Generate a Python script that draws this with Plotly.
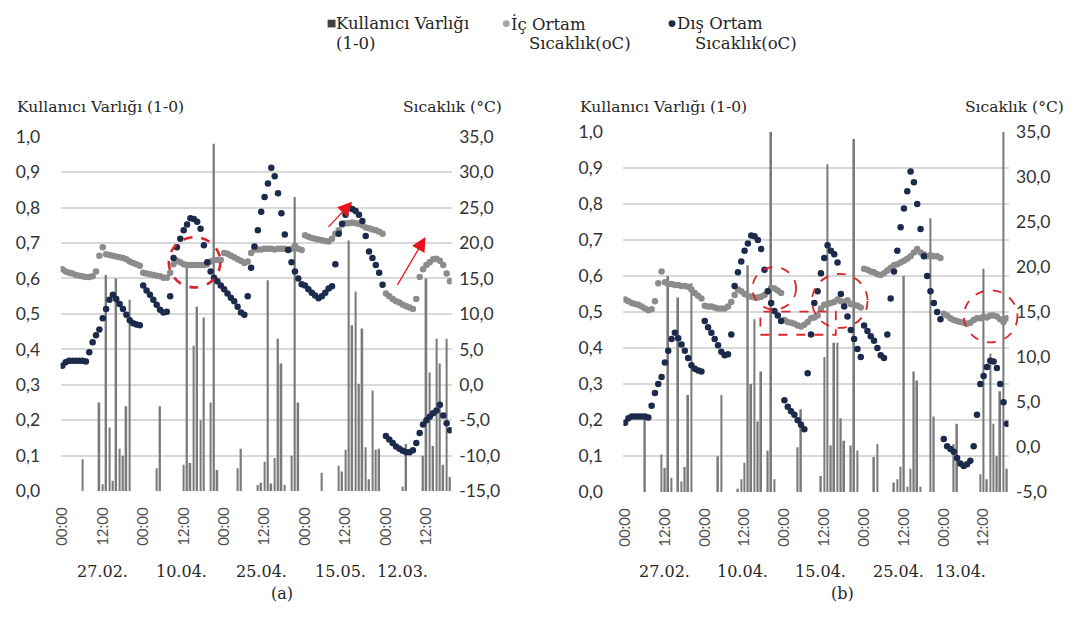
import plotly.graph_objects as go

W, H = 1078, 624

# ---------------- data ----------------
time_labels = ["00:00", "12:00"] * 5
time_ticks = [0, 12, 24, 36, 48, 60, 72, 84, 96, 108]

dates_a = ["27.02.", "10.04.", "25.04.", "15.05.", "12.03."]
dates_b = ["27.02.", "10.04.", "15.04.", "25.04.", "13.04."]
date_pos = [12, 35.5, 59, 82.5, 101]

# outdoor temperature (°C), hourly from 00:00 of each day
dis_27_02 = [2.7, 3.2, 3.4, 3.4, 3.4, 3.4, 3.4, 3.3, 4.6, 6.0, 7.0, 7.8,
             9.4, 10.7, 12.0, 12.7, 12.1, 11.4, 10.7, 9.9, 9.1, 8.7, 8.5, 8.4]
dis_10_04 = [14.0, 13.3, 12.7, 12.0, 11.3, 10.6, 10.2, 10.3, 12.5, 17.9, 19.4, 20.6,
             21.8, 22.6, 23.5, 23.4, 23.0, 22.0, 19.7, 17.3, 16.0, 15.1, 14.6, 14.0]
dis_25_04 = [13.5, 12.9, 12.3, 11.8, 11.0, 10.2, 9.9, 12.5, 16.5, 19.5, 21.8, 24.4,
             26.5, 28.4, 30.6, 29.4, 27.0, 24.2, 21.2, 19.0, 17.3, 16.0, 15.0, 14.2]
dis_15_05 = [14.0, 13.5, 13.0, 12.6, 12.2, 12.5, 13.0, 13.6, 13.9, 17.0, 21.3, 22.7,
             24.0, 25.0, 24.8, 24.5, 24.0, 23.1, 21.0, 18.8, 17.9, 16.9, 15.8, 14.1]
dis_12_03 = [-7.2, -7.7, -8.2, -8.7, -9.0, -9.3, -9.5, -9.5, -9.2, -8.2,
             -6.8, -5.6, -5.0, -4.5, -4.0, -3.6, -2.8, -4.3, -5.4, -6.4]
dis_15_04 = [5.2, 4.5, 4.0, 3.6, 3.0, 2.5, 2.0, 8.2, 12.5, 16.0, 17.3, 19.3,
             21.0, 22.4, 21.8, 21.4, 20.5, 17.0, 15.6, 14.5, 13.0, 12.0, 10.9, 10.0]
dis_13_04 = [0.9, 0.1, -0.2, -0.5, -1.2, -1.8, -2.1, -1.9, -1.5, 0.1,
             3.6, 7.0, 7.9, 8.9, 9.6, 9.5, 8.8, 7.0, 5.0, 2.6]

# indoor temperature (°C), room (a)
ic_a = [16.3, 16.0, 15.8, 15.7, 15.5, 15.4, 15.3, 15.2, 15.2, 15.3, 16.0, 18.2,
        19.4, 18.4, 18.3, 18.2, 18.1, 18.0, 17.9, 17.7, 17.4, 17.2, 17.0, 16.8,
        15.8, 15.7, 15.6, 15.5, 15.4, 15.3, 15.1, 15.1, 15.8, 17.0, 17.5, 17.3,
        17.0, 16.9, 16.9, 16.9, 16.9, 16.9, 16.9, 17.0, 17.4, 17.6, 17.6, 17.6,
        18.6, 18.5, 18.2, 18.0, 17.7, 17.5, 17.2, 17.4, 18.6, 19.1, 19.1, 19.1,
        19.2, 19.2, 19.2, 19.1, 19.2, 19.2, 19.2, 19.1, 19.2, 19.6, 19.2, 19.0,
        21.1, 20.9, 20.7, 20.6, 20.5, 20.4, 20.3, 20.2, 20.6, 21.3, 21.8, 22.6,
        22.8, 22.8, 22.9, 22.8, 22.7, 22.5, 22.2, 22.1, 21.9, 21.8, 21.6, 21.3,
        12.9, 12.5, 12.1, 11.8, 11.6, 11.3, 11.1, 10.9, 10.7, 12.1,
        15.2, 16.3, 16.9, 17.3, 17.7, 17.8, 17.5, 16.9, 15.7, 14.6]

# indoor temperature (°C), room (b)
ic_b = [16.4, 16.2, 16.0, 15.9, 15.8, 15.6, 15.4, 15.2, 15.3, 16.2, 18.2, 19.5,
        18.3, 18.1, 18.1, 18.0, 18.0, 17.9, 17.9, 17.8, 17.5, 17.1, 16.8, 16.5,
        15.7, 15.6, 15.6, 15.5, 15.4, 15.4, 15.4, 15.6, 16.1, 16.9, 17.5, 17.3,
        17.0, 16.8, 16.7, 16.6, 16.6, 16.7, 16.9, 17.3, 17.7, 17.6, 17.4, 17.1,
        14.1, 13.9, 13.8, 13.7, 13.5, 13.4, 13.6, 13.9, 14.3, 14.4, 14.6, 15.4,
        15.8, 15.9, 16.0, 16.1, 16.4, 16.2, 16.1, 16.3, 15.9, 15.8, 15.7, 15.5,
        19.8, 19.7, 19.5, 19.4, 19.2, 19.1, 19.3, 19.6, 19.9, 20.2, 20.3, 20.5,
        20.7, 20.9, 21.2, 21.6, 22.0, 21.6, 21.4, 21.2, 21.3, 21.2, 21.2, 21.0,
        14.8, 14.6, 14.3, 14.1, 14.0, 13.9, 13.8, 13.7, 13.8, 14.1,
        14.3, 14.3, 14.5, 14.4, 14.6, 14.6, 14.5, 14.2, 13.9, 14.3]

# occupancy (1-0), room (a)
occ_a = [0, 0, 0, 0, 0, 0, 0.09, 0, 0, 0, 0, 0.25,
         0.02, 0.61, 0.18, 0.03, 0.60, 0.12, 0.10, 0.24, 0.54, 0, 0, 0,
         0, 0, 0, 0, 0.065, 0.24, 0, 0, 0, 0, 0, 0,
         0.075, 0.63, 0.08, 0.41, 0.52, 0.20, 0.49, 0, 0.25, 0.98, 0.06, 0,
         0, 0, 0, 0, 0.065, 0.12, 0, 0, 0, 0, 0.018, 0.024,
         0.083, 0.595, 0.022, 0.094, 0.43, 0.36, 0.018, 0, 0.10, 0.83, 0.25, 0,
         0, 0, 0, 0, 0, 0.052, 0, 0, 0, 0, 0.072, 0.056,
         0.117, 0.707, 0.468, 0.563, 0.303, 0.459, 0.124, 0.034, 0.284, 0.117, 0.12, 0,
         0, 0, 0, 0, 0, 0.013, 0.133, 0, 0, 0,
         0, 0.10, 0.60, 0.335, 0.128, 0.43, 0.36, 0.075, 0.43, 0.04]

# occupancy (1-0), room (b)
occ_b = [0, 0, 0, 0, 0, 0, 0.205, 0, 0, 0, 0, 0.105,
         0.068, 0.60, 0.04, 0, 0.54, 0.03, 0.07, 0.27, 0.58, 0, 0, 0,
         0, 0, 0, 0, 0.10, 0.27, 0, 0, 0, 0, 0.01, 0.036,
         0.082, 0.63, 0.30, 0.48, 0.196, 0.335, 0, 0.116, 1.0, 0.036, 0, 0,
         0, 0, 0, 0, 0.125, 0.23, 0, 0, 0, 0, 0, 0.045,
         0.375, 0.91, 0.13, 0.415, 0.415, 0.205, 0.143, 0, 0.13, 0.98, 0.116, 0,
         0, 0, 0, 0.098, 0.134, 0, 0, 0, 0, 0.027, 0.036, 0.071,
         0.60, 0.015, 0.065, 0.335, 0.31, 0.015, 0, 0, 0.76, 0.21, 0, 0,
         0, 0, 0, 0.134, 0.19, 0, 0, 0, 0, 0,
         0, 0.05, 0.62, 0.036, 0.385, 0.19, 0.10, 0.28, 1.0, 0.065]

dis_a = dis_27_02 + dis_10_04 + dis_25_04 + dis_15_05 + dis_12_03
dis_b = dis_27_02 + dis_10_04 + dis_15_04 + dis_25_04 + dis_13_04
hours = list(range(len(ic_a)))

# ---------------- styling ----------------
BAR = "#7a7a7a"
GRAY = "#8c8c8c"
NAVY = "#1c2a4c"
RED = "#d9262b"
GRID = "#d9d9d9"
SANS = "Lato"
SERIF = "DejaVu Serif"
TXT = "#262626"


def px(x):
    return x / W


def py(y):
    return 1 - y / H


def fmt(v):
    return f"{v:.1f}".replace(".", ",")


fig = go.Figure()

for occ, ic, dis, xa, yl, yr in [(occ_a, ic_a, dis_a, "x", "y", "y2"),
                                 (occ_b, ic_b, dis_b, "x2", "y3", "y4")]:
    fig.add_trace(go.Bar(x=hours, y=occ, width=0.5, marker=dict(color=BAR, line_width=0),
                         xaxis=xa, yaxis=yl, showlegend=False,
                         name="Kullanıcı Varlığı (1-0)"))
    fig.add_trace(go.Scatter(x=hours, y=ic, mode="markers",
                             marker=dict(color=GRAY, size=6.5),
                             xaxis=xa, yaxis=yr, showlegend=False,
                             name="İç Ortam Sıcaklık(oC)"))
    fig.add_trace(go.Scatter(x=hours, y=dis, mode="markers",
                             marker=dict(color=NAVY, size=6.5),
                             xaxis=xa, yaxis=yr, showlegend=False,
                             name="Dış Ortam Sıcaklık(oC)"))

occ_ticks = [i / 10 for i in range(11)]
t_ticks_a = list(range(-15, 40, 5))
t_ticks_b = list(range(-5, 40, 5))

TICKFONT = dict(family=SANS, size=17.5, color="#333333")
xcommon = dict(range=[-0.5, 115.5], tickvals=time_ticks, ticktext=time_labels,
               tickangle=-90, tickfont=dict(family=SANS, size=15, color="#4d4d4d"),
               showgrid=False, zeroline=False, showline=False,
               ticks="outside", ticklen=9, tickcolor="rgba(0,0,0,0)")
yleft = dict(range=[0, 1], tickvals=occ_ticks, ticktext=[fmt(v) for v in occ_ticks],
             tickfont=TICKFONT,
             showgrid=True, gridcolor=GRID, gridwidth=1.6, zeroline=False,
             showline=False, ticks="outside", ticklen=16, tickcolor="rgba(0,0,0,0)")
yright = dict(side="right", showgrid=False, zeroline=False, showline=False,
              tickfont=TICKFONT,
              ticks="outside", ticklen=3, tickcolor="rgba(0,0,0,0)")

fig.update_layout(
    width=W, height=H, margin=dict(l=0, r=0, t=0, b=0),
    paper_bgcolor="white", plot_bgcolor="white", showlegend=False,
    xaxis=dict(domain=[px(53), px(447)], anchor="y", **xcommon),
    yaxis=dict(domain=[py(497), py(130)], anchor="x", **yleft),
    yaxis2=dict(overlaying="y", anchor="x", range=[-15, 35], tickvals=t_ticks_a,
                ticktext=[fmt(v) for v in t_ticks_a], **yright),
    xaxis2=dict(domain=[px(620), px(1008)], anchor="y3", **xcommon),
    yaxis3=dict(domain=[py(498), py(125)], anchor="x2", **yleft),
    yaxis4=dict(overlaying="y3", anchor="x2", range=[-5, 35], tickvals=t_ticks_b,
                ticktext=[fmt(v) for v in t_ticks_b], **yright),
)

ann = []
shapes = []


def text(x, y, s, size=16, anchor="left", family=SERIF, xref="paper"):
    ann.append(dict(x=x, y=y, xref=xref, yref="paper", text=s, showarrow=False,
                    xanchor=anchor, yanchor="middle", borderpad=0,
                    font=dict(family=family, size=size, color=TXT)))


# axis titles
text(px(8), py(99), "Kullanıcı Varlığı (1-0)", size=15.5)
text(px(499), py(99), "Sıcaklık (°C)", anchor="right", size=15.5)
text(px(575), py(99), "Kullanıcı Varlığı (1-0)", size=15.5)
text(px(1065), py(99), "Sıcaklık (°C)", anchor="right", size=15.5)

# date labels and panel captions
for d, p in zip(dates_a, date_pos):
    text(p, py(580), d, anchor="center", xref="x", size=16)
for d, p in zip(dates_b, date_pos):
    text(p, py(580), d, anchor="center", xref="x2", size=16)
text(px(276), py(603), "(a)", anchor="center", size=16)
text(px(841), py(603), "(b)", anchor="center", size=16)

# legend
shapes.append(dict(type="rect", xref="paper", yref="paper", x0=px(322), x1=px(330),
                   y0=py(17), y1=py(9), fillcolor="#404040", line_width=0))
text(px(329), py(13), "Kullanıcı Varlığı", size=16.5)
text(px(329), py(34), "(1-0)", size=16.5)
shapes.append(dict(type="circle", xref="paper", yref="paper", x0=px(498.5), x1=px(505.5),
                   y0=py(16.5), y1=py(9.5), fillcolor="#a6a6a6", line_width=0))
text(px(506), py(13), "İç Ortam", size=16.5)
text(px(524), py(34), "Sıcaklık(oC)", size=16.5)
shapes.append(dict(type="circle", xref="paper", yref="paper", x0=px(665.5), x1=px(672.5),
                   y0=py(16.5), y1=py(9.5), fillcolor=NAVY, line_width=0))
text(px(673), py(13), "Dış Ortam", size=16.5)
text(px(691), py(34), "Sıcaklık(oC)", size=16.5)


# red highlight marks
def circle(cx, cy, r, width):
    shapes.append(dict(type="circle", xref="paper", yref="paper",
                       x0=px(cx - r), x1=px(cx + r), y0=py(cy + r), y1=py(cy - r),
                       line=dict(color=RED, width=width, dash="dash")))


circle(188, 260, 26, 2.6)
circle(772, 287, 22, 1.8)
circle(838, 300, 28, 1.8)
circle(990, 316, 27, 1.8)
shapes.append(dict(type="rect", xref="paper", yref="paper", x0=px(758), x1=px(834),
                   y0=py(335), y1=py(311), line=dict(color=RED, width=1.8, dash="dash")))

for (tx, ty), (hx, hy) in [((321.7, 224.0), (346.7, 197.3)),
                           ((391.7, 283.3), (420.7, 234.0))]:
    ann.append(dict(x=px(hx), y=py(hy), xref="paper", yref="paper",
                    ax=tx - hx, ay=ty - hy, axref="pixel", ayref="pixel",
                    text="", showarrow=True, arrowhead=2, arrowsize=2.2,
                    arrowwidth=1.3, arrowcolor="#e8141b"))

fig.update_layout(annotations=ann, shapes=shapes)
fig.write_html("out.html")
